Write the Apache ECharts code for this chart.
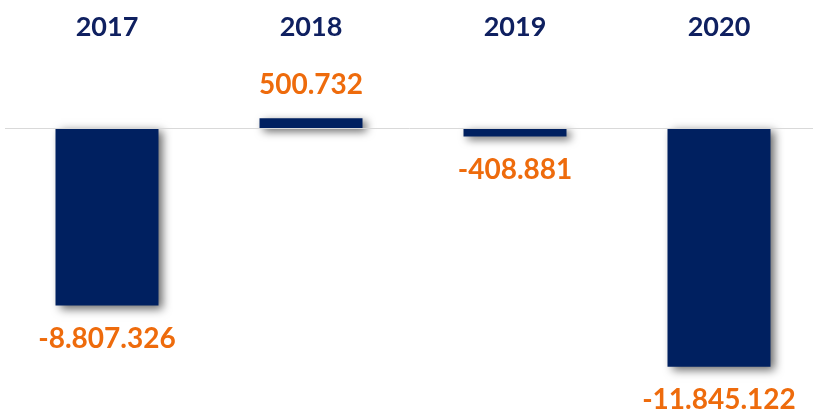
<!DOCTYPE html>
<html>
<head>
<meta charset="utf-8">
<script src="https://cdn.jsdelivr.net/npm/echarts@6/dist/echarts.min.js"></script>
<style>
html,body{margin:0;padding:0;background:#fff;}
#chart{width:813px;height:413px;}
</style>
</head>
<body>
<div id="chart"></div>
<script>
var years = ["2017", "2018", "2019", "2020"];
var values = [-8807326, 500732, -408881, -11845122];

// 1.234.567 style numbers
var fmt = function(v){
	var s = Math.abs(v).toString().replace(/\B(?=(\d{3})+(?!\d))/g, ".");
	return (v < 0 ? "-" : "") + s;
};

var chart = echarts.init(document.getElementById("chart"));
var option = {
	animation: false,
	backgroundColor: "#fff",
	grid: {left: 5, width: 816, top: 58, bottom: 3, outerBoundsMode: "none", containLabel: false},
	xAxis: {
		type: "category",
		position: "top",
		data: years,
		axisLine: {show: false},
		axisTick: {show: false},
		axisLabel: {
			margin: 17,
			color: "#0F2060",
			fontFamily: "Lato",
			fontWeight: "bold",
			fontSize: 27
		}
	},
	yAxis: {
		type: "value",
		min: -14000000,
		max: 3500000,
		show: false,
		splitLine: {show: false}
	},
	series: [{
		type: "bar",
		barWidth: 103,
		data: values.map(function(v){
			return {
				value: v,
				label: {position: v >= 0 ? "top" : "bottom"}
			};
		}),
		itemStyle: {
			color: "#002060",
			shadowColor: "rgba(0,0,0,0.6)",
			shadowBlur: 9,
			shadowOffsetX: 4,
			shadowOffsetY: 3
		},
		label: {
			show: true,
			distance: 19,
			color: "#EE6B0C",
			fontFamily: "Lato",
			fontWeight: "bold",
			fontSize: 28,
			formatter: function(p){ return fmt(p.value); }
		},
		markLine: {
			silent: true,
			symbol: "none",
			label: {show: false},
			lineStyle: {color: "#D9D9D9", type: "solid", width: 1},
			data: [{yAxis: 0}]
		},
		z: 3
	}]
};
chart.setOption(option);
</script>
</body>
</html>
